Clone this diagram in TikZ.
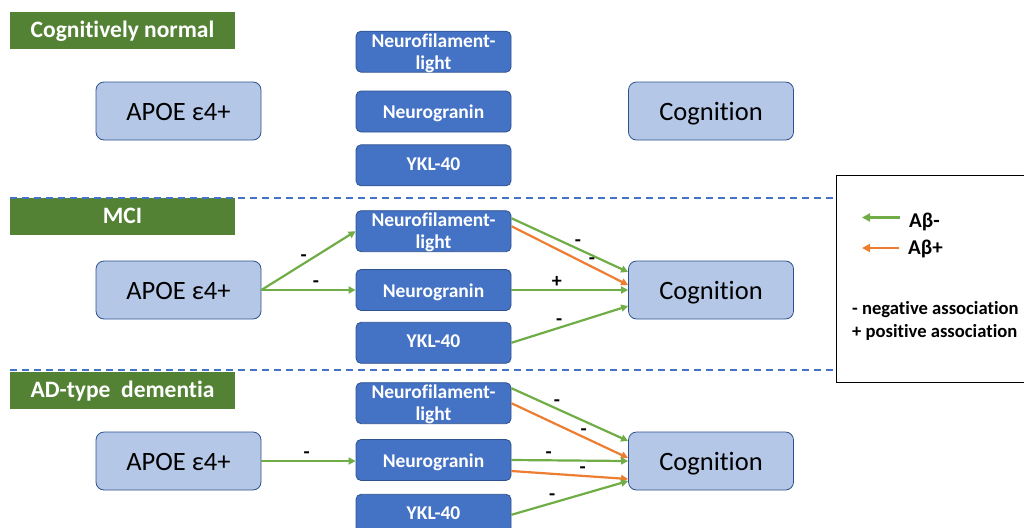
\documentclass[tikz,border=0pt]{standalone}
\usepackage{fontspec}
\setmainfont{Carlito}[Ligatures=NoCommon]
\usepackage{tikz}
\usetikzlibrary{positioning, arrows.meta}
\definecolor{stageGreen}{HTML}{548235}
\definecolor{markerBlue}{HTML}{4472C4}
\definecolor{markerEdge}{HTML}{2F528F}
\definecolor{factorFill}{HTML}{B4C7E7}
\definecolor{abNegGreen}{HTML}{70AD47}
\definecolor{abPosOrange}{HTML}{ED7D31}

\begin{document}
\begin{tikzpicture}[x=1pt, y=-1pt,
  stage/.style={fill=stageGreen, text=white, font=\bfseries\fontsize{23.5}{27}\selectfont,
                minimum width=225pt, minimum height=37pt, inner sep=0pt, text height=20pt, text depth=6pt},
  factor/.style={draw=markerEdge, fill=factorFill, rounded corners=8pt, line width=0.8pt,
                 minimum width=165pt, minimum height=58pt, font=\fontsize{26.5}{30}\selectfont,
                 text height=24pt, text depth=6pt},
  marker/.style={draw=markerEdge, fill=markerBlue, text=white, rounded corners=5pt, line width=0.8pt,
                 minimum width=155pt, minimum height=41pt, inner sep=0pt, align=center,
                 font=\bfseries\fontsize{19.5}{22}\selectfont, text height=19pt, text depth=5pt},
  twoline/.style={text height=38pt, text depth=3pt},
  flatline/.style={text height=17pt, text depth=7pt},
  assoc/.style={line width=2.2pt, -{Triangle[length=7pt, width=7pt]}},
  abneg/.style={assoc, draw=abNegGreen},
  abpos/.style={assoc, draw=abPosOrange},
  sign/.style={font=\bfseries\fontsize{20}{22}\selectfont, inner sep=1pt},
  stagesep/.style={draw=markerBlue, line width=1.8pt, dash pattern=on 7pt off 5pt},
]
\useasboundingbox (0,0) rectangle (1024,527);

% legend box (cut by the right edge)
\node[draw=black, line width=0.8pt, minimum width=200pt, minimum height=207pt, anchor=north west]
  (legendBox) at (836,175) {};

% stage headers
\node[stage] (hdrNormal) at (122.5,30.5) {Cognitively normal};
\node[stage] (hdrMci) at (122.5,216.5) {MCI};
\node[stage] (hdrAd) at (122.5,390.5) {AD-type\ \ dementia};

\draw[stagesep] (hdrMci.north west) -- (hdrMci.north west -| legendBox.west);
\draw[stagesep] ([yshift=2pt]hdrAd.north west) -- ([yshift=2pt]hdrAd.north west -| legendBox.west);

% cognitively normal
\node[factor] (apoeA) at (178.5,111) {APOE ε4+};
\node[factor] (cogA) at (711,111) {Cognition};
\node[marker] (ngrA) at (433.5,111.5) {Neurogranin};
\node[marker, twoline, above=18pt of ngrA] (nflA) {Neurofilament-\\light};
\node[marker, flatline, below=12pt of ngrA] (yklA) {YKL-40};

% MCI
\node[factor] (apoeB) at (178.5,290) {APOE ε4+};
\node[factor] (cogB) at (711,290) {Cognition};
\node[marker] (ngrB) at (433.5,290) {Neurogranin};
\node[marker, twoline, above=17pt of ngrB] (nflB) {Neurofilament-\\light};
\node[marker, flatline, below=11pt of ngrB] (yklB) {YKL-40};

\draw[abneg] (apoeB.east) -- (nflB.west) node[sign, pos=.45, above] {-};
\draw[abneg] (apoeB.east) -- (ngrB.west) node[sign, pos=.58, above] {-};
\draw[abneg] ([yshift=13pt]nflB.east) -- ([yshift=18pt]cogB.west) node[sign, pos=.57, above] {-};
\draw[abpos] ([yshift=5pt]nflB.east) -- ([yshift=5pt]cogB.west) node[sign, pos=.69, above] {-};
\draw[abneg] (ngrB.east) -- (cogB.west) node[sign, pos=.39, above] {+};
\draw[abneg] (yklB.east) -- ([yshift=-16pt]cogB.west) node[sign, pos=.41, above] {-};

% AD-type dementia
\node[factor] (apoeC) at (178.5,461) {APOE ε4+};
\node[factor] (cogC) at (711,461) {Cognition};
\node[marker] (ngrC) at (433.5,460) {Neurogranin};
\node[marker, twoline, above=15pt of ngrC] (nflC) {Neurofilament-\\light};
\node[marker, flatline, below=13pt of ngrC] (yklC) {YKL-40};

\draw[abneg] (apoeC.east) -- (apoeC.east -| ngrC.west) node[sign, pos=.48, above] {-};
\draw[abneg] ([yshift=15pt]nflC.east) -- ([yshift=20pt]cogC.west) node[sign, pos=.39, above] {-};
\draw[abpos] (nflC.east) -- ([yshift=3pt]cogC.west) node[sign, pos=.62, above] {-};
\draw[abneg] (ngrC.east) -- (cogC.west) node[sign, pos=.32, above] {-};
\draw[abpos] ([yshift=-11pt]ngrC.east) -- ([yshift=-18pt]cogC.west) node[sign, pos=.61, above] {-};
\draw[abneg] (yklC.east) -- ([yshift=-20pt]cogC.west) node[sign, pos=.35, above] {-};

% legend
\node[font=\bfseries\fontsize{21}{24}\selectfont, anchor=base west, inner sep=0pt] (abNegLbl) at (909,227) {Aβ-};
\node[font=\bfseries\fontsize{21}{24}\selectfont, anchor=base west, inner sep=0pt] (abPosLbl) at (908,254) {Aβ+};
\coordinate (abNegTip) at (862,217.5);
\coordinate (abPosTip) at (862,248);
\draw[abneg, -{Triangle[length=8pt, width=8pt]}, shorten <=9pt] (abNegTip -| abNegLbl.west) -- (abNegTip);
\draw[abpos, -{Triangle[length=8pt, width=8pt]}, shorten <=9pt] (abPosTip -| abPosLbl.west) -- (abPosTip);
\node[font=\bfseries\fontsize{18.6}{23}\selectfont, align=left, anchor=west, inner sep=0pt] (signKey) at (852,321)
  {- negative association\\+ positive association};
\end{tikzpicture}
\end{document}
